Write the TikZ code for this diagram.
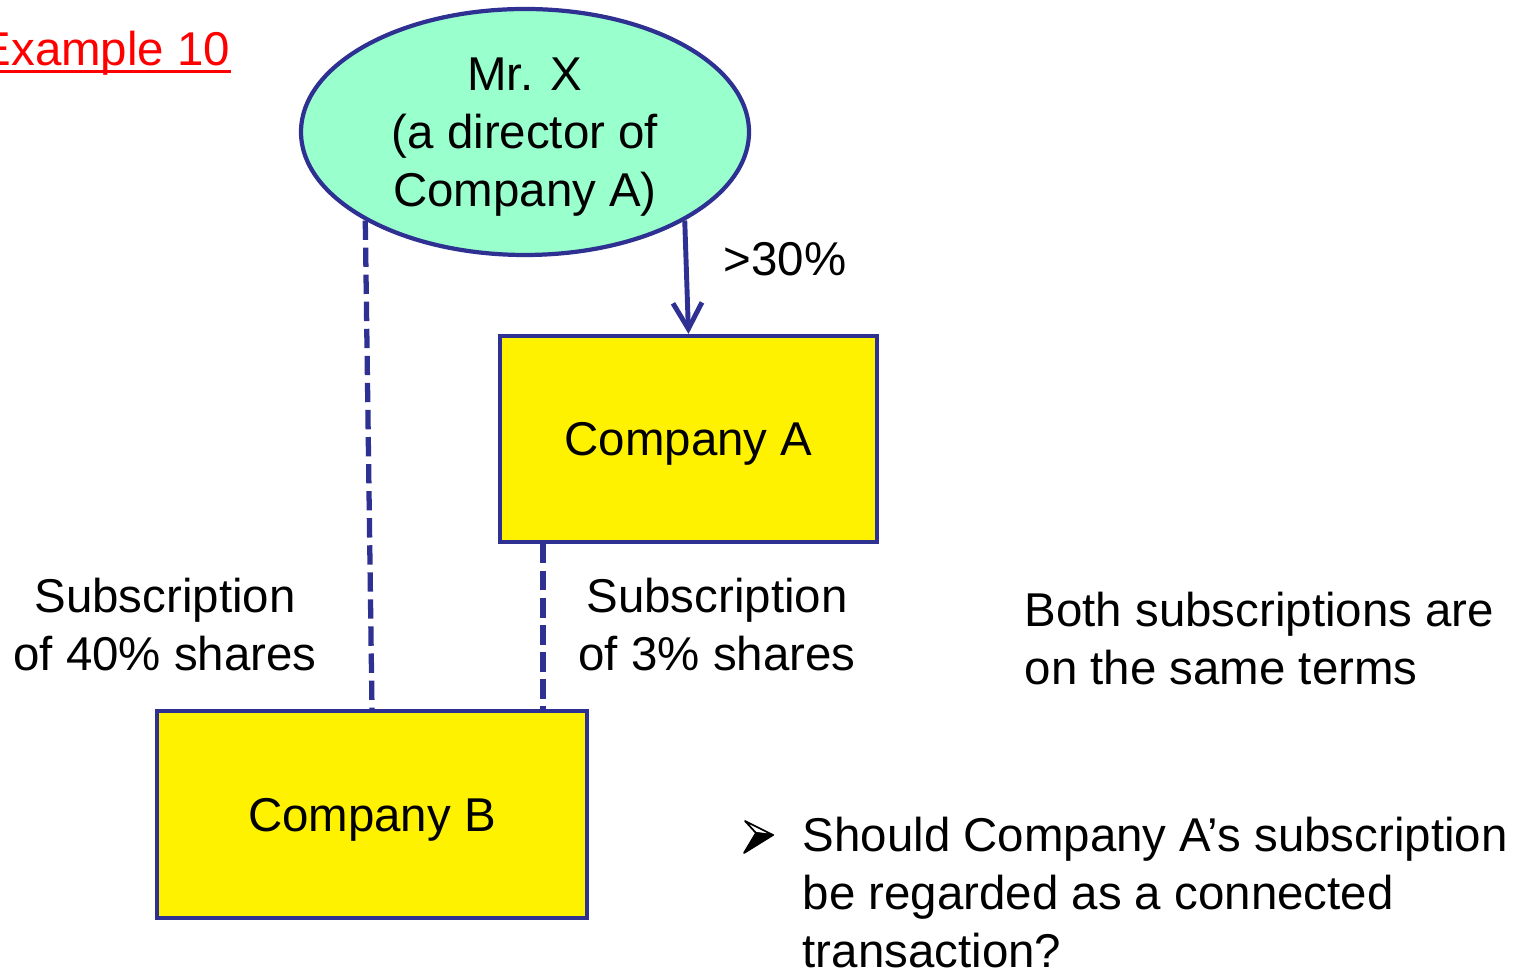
\documentclass[tikz,border=0pt]{standalone}
\usepackage{fontspec}
\setmainfont{Liberation Sans}
\usetikzlibrary{shapes.geometric,arrows.meta,calc}
\definecolor{linkblue}{RGB}{46,49,146}
\definecolor{personfill}{RGB}{153,255,204}
\definecolor{titlered}{RGB}{255,0,0}

\begin{document}
\begin{tikzpicture}[font=\fontsize{13.5}{16.5}\selectfont,
    person/.style={ellipse, draw=linkblue, fill=personfill, line width=1.2pt,
        minimum width=4.48cm, minimum height=2.46cm, inner sep=0pt, align=center, text depth=0pt},
    company/.style={rectangle, draw=linkblue, fill=yellow, line width=1.2pt, inner sep=0pt, text depth=0pt},
    holding/.style={linkblue, line width=1.4pt, -{Straight Barb[length=2.6mm,width=2.9mm]}},
    dealing/.style={linkblue, line width=1.5pt, dash pattern=on 5.5pt off 2.2pt},
    remark/.style={inner sep=0pt, align=left, anchor=west}]
    \useasboundingbox (0,0) rectangle (15.16,9.73);

    % title
    \node[anchor=base west, inner sep=0pt, text=titlered] (title) at (-0.21,9.07) {Example 10};
    \draw[titlered, line width=0.85pt] ($(title.base west)+(0,-0.06)$) -- ($(title.base east)+(0,-0.06)$);

    % people and companies
    \node[person] (mrx) at (5.25,8.41) {Mr. X\\(a director of\\Company A)};
    \node[company, minimum width=3.77cm, minimum height=2.06cm] (compA) at (6.885,5.34) {Company A};
    \node[company, minimum width=4.30cm, minimum height=2.07cm] (compB) at (3.72,1.585) {Company B};

    % connectors
    \draw[holding] (mrx.-29) -- (compA.north);
    \draw[dealing] (mrx.209) -- (compB.north);
    \coordinate (subA) at ($(compA.south west)+(0.45,0)$);
    \draw[dealing] (subA) -- (subA |- compB.north);

    % labels
    \node (pct) at (7.85,7.14) {>30\%};
    \node[align=center] (subBtxt) at (1.65,3.48) {Subscription\\of 40\% shares};
    \node[align=center] (subAtxt) at (7.17,3.48) {Subscription\\of 3\% shares};
    \node[remark] (terms) at (10.24,3.34) {Both subscriptions are\\on the same terms};
    \node[remark] (question) at (8.02,0.80) {Should Company A’s subscription\\be regarded as a connected\\transaction?};

    % bullet arrowhead
    \coordinate (bullet) at (7.58,1.35);
    \filldraw[fill=white, line width=0.5pt, line join=round] ($(bullet)+(-0.13,0.17)$) -- ($(bullet)+(0.15,0.03)$) -- ($(bullet)+(-0.02,0.05)$) -- cycle;
    \filldraw[line width=0.5pt, line join=round] ($(bullet)+(-0.14,-0.15)$) -- ($(bullet)+(0.15,0.03)$) -- ($(bullet)+(-0.02,0.05)$) -- cycle;
\end{tikzpicture}
\end{document}
